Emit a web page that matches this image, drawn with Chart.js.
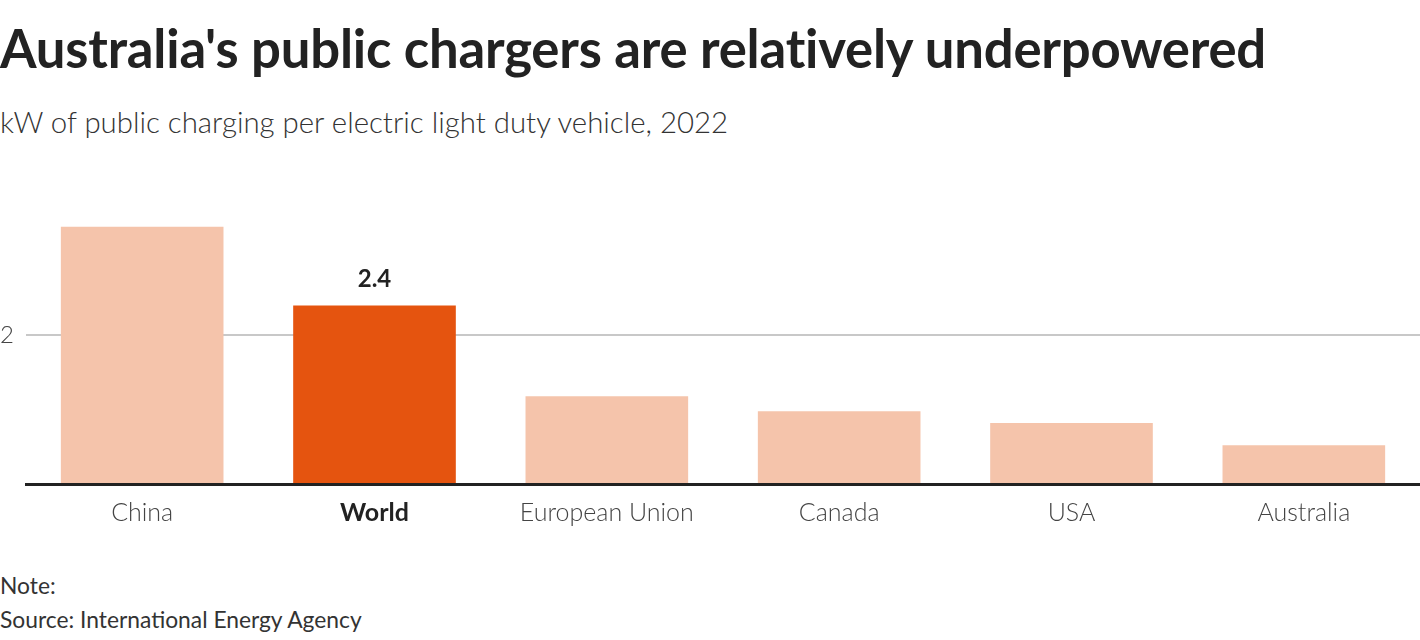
<!DOCTYPE html>
<html>
<head>
<meta charset="utf-8">
<script src="https://cdn.jsdelivr.net/npm/chart.js@4.4.0/dist/chart.umd.min.js"></script>
<style>
  html, body { margin: 0; padding: 0; background: #fff; }
  body { width: 1420px; height: 640px; position: relative; overflow: hidden; font-family: Lato, "Open Sans", sans-serif; color: #222; }
  .title { position: absolute; left: 0; top: 16px; font-size: 52.7px; font-weight: 700; letter-spacing: -0.2px; white-space: nowrap; }
  .subtitle { position: absolute; left: 0; top: 104px; font-size: 29.4px; font-weight: 300; color: #333; white-space: nowrap; }
  .chart-wrap { position: absolute; left: 0; top: 190px; width: 1420px; height: 350px; }
  .note { position: absolute; left: 0; top: 568px; font-size: 22.8px; color: #333; line-height: 34px; }
</style>
</head>
<body>
<div class="title">Australia's public chargers are relatively underpowered</div>
<div class="subtitle">kW of public charging per electric light duty vehicle, 2022</div>
<div class="chart-wrap"><canvas id="chart" width="1420" height="350"></canvas></div>
<div class="note">Note:<br>Source: International Energy Agency</div>

<script>
// Data
const categories = ['China', 'World', 'European Union', 'Canada', 'USA', 'Australia'];
const kwPerVehicle = [3.46, 2.4, 1.18, 0.98, 0.82, 0.52];
const highlight = 'World';
const yTicks = [0, 2];

const lightColor = '#F5C4AB';
const strongColor = '#E5540F';

// Value label above the highlighted bar only
const highlightLabel = {
    id: 'highlightLabel',
    afterDatasetsDraw(chart) {
        const ctx = chart.ctx;
        const meta = chart.getDatasetMeta(0);
        meta.data.forEach((bar, i) => {
            if (categories[i] !== highlight) return;
            ctx.save();
            ctx.font = 'bold 24px Lato, "Open Sans", sans-serif';
            ctx.fillStyle = '#222';
            ctx.textAlign = 'center';
            ctx.textBaseline = 'bottom';
            ctx.fillText(kwPerVehicle[i].toFixed(1), bar.x, bar.y - 14);
            ctx.restore();
        });
    }
};

new Chart(document.getElementById('chart'), {
    type: 'bar',
    data: {
        labels: categories,
        datasets: [{
            data: kwPerVehicle,
            backgroundColor: categories.map(c => c === highlight ? strongColor : lightColor),
            borderWidth: 0,
            barPercentage: 0.7,
            categoryPercentage: 1
        }]
    },
    options: {
        responsive: false,
        animation: false,
        layout: { padding: { top: 5, right: 0, left: 0, bottom: 0 } },
        plugins: {
            legend: { display: false },
            tooltip: { enabled: false }
        },
        scales: {
            x: {
                afterFit: (scale) => { scale.height = 56; },
                grid: { display: false, drawTicks: false },
                border: { color: '#222', width: 3 },
                ticks: {
                    padding: 14,
                    color: (ctx) => categories[ctx.index] === highlight ? '#222' : '#444',
                    font: (ctx) => ({
                        family: 'Lato, "Open Sans", sans-serif',
                        size: 25,
                        weight: categories[ctx.index] === highlight ? 'bold' : '300'
                    })
                }
            },
            y: {
                min: 0,
                max: 3.6,
                afterFit: (scale) => { scale.width = 26; },
                afterBuildTicks: (scale) => { scale.ticks = yTicks.map(v => ({ value: v })); },
                border: { display: false },
                grid: {
                    drawTicks: false,
                    color: (ctx) => ctx.tick && ctx.tick.value === 0 ? 'rgba(0,0,0,0)' : '#c8c8c8',
                    lineWidth: 2
                },
                ticks: {
                    padding: 12,
                    color: '#444',
                    font: { family: 'Lato, "Open Sans", sans-serif', size: 24, weight: '300' },
                    callback: (v) => v === 0 ? '' : v
                }
            }
        }
    },
    plugins: [highlightLabel]
});
</script>
</body>
</html>
